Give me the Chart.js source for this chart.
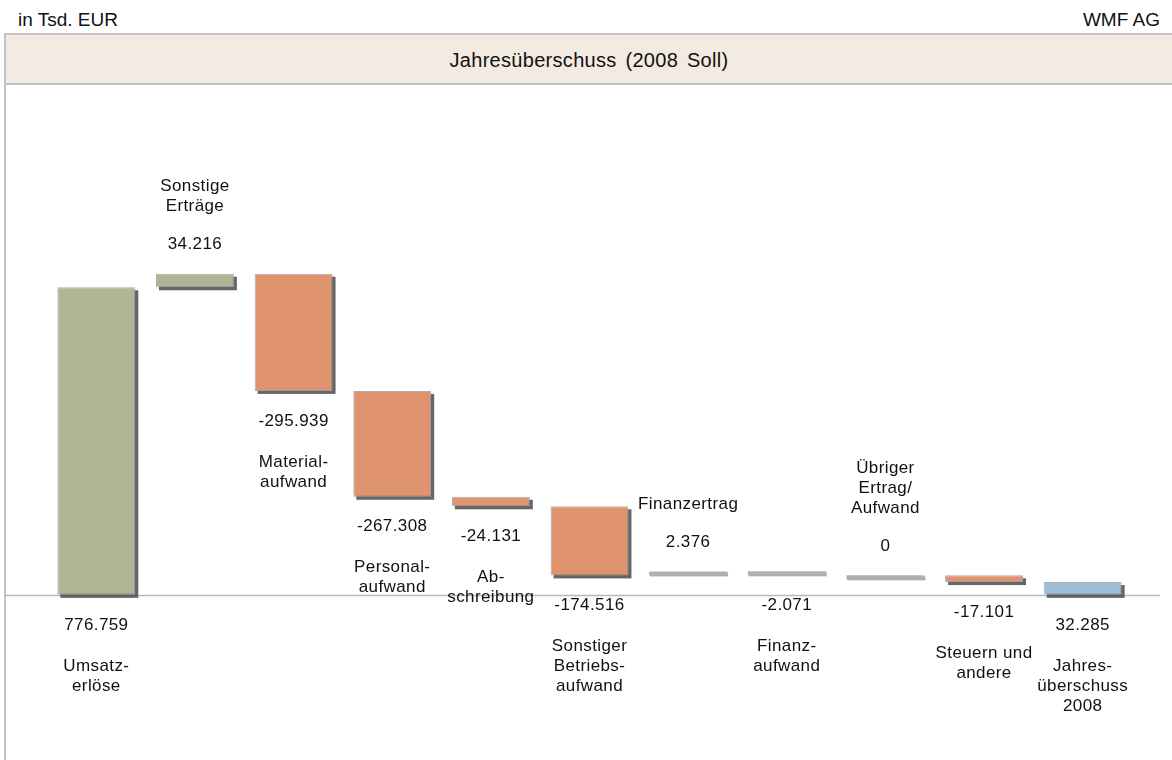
<!DOCTYPE html>
<html><head><meta charset="utf-8">
<script src="https://cdn.jsdelivr.net/npm/chart.js@4/dist/chart.umd.min.js"></script>
<style>
body{margin:0;width:1172px;height:760px;overflow:hidden;background:#fff;font-family:"Liberation Sans",Arial,sans-serif;position:relative}
#hl{position:absolute;left:18px;top:9px;font-size:19px;line-height:22px;color:#111}
#hr{position:absolute;right:12px;top:9px;font-size:19px;line-height:22px;color:#111}
#frame{position:absolute;left:4px;top:33px;width:1168px;height:727px;border-left:2px solid #c4c4c4;border-top:2px solid #c4c4c4;box-sizing:border-box}
#title{position:absolute;left:6px;top:35px;width:1166px;height:48px;background:#f3ebe1;border-bottom:2px solid #c4c4c4;text-align:center;line-height:50px;font-size:20px;letter-spacing:0.3px;word-spacing:3px;color:#111}
#wrap{position:absolute;left:0;top:86px;width:1172px;height:674px}
</style></head>
<body>
<div id="hl">in Tsd. EUR</div>
<div id="hr">WMF AG</div>
<div id="frame"></div>
<div id="title">Jahresüberschuss (2008 Soll)</div>
<div id="wrap"><canvas id="c" width="1172" height="674"></canvas></div>
<script>
const categories = [
  ["Umsatz-","erlöse"],
  ["Sonstige","Erträge"],
  ["Material-","aufwand"],
  ["Personal-","aufwand"],
  ["Ab-","schreibung"],
  ["Sonstiger","Betriebs-","aufwand"],
  ["Finanzertrag"],
  ["Finanz-","aufwand"],
  ["Übriger","Ertrag/","Aufwand"],
  ["Steuern und","andere"],
  ["Jahres-","überschuss","2008"]
];
const values = [776759, 34216, -295939, -267308, -24131, -174516, 2376, -2071, 0, -17101, 32285];
const isTotal = [true, false, false, false, false, false, false, false, false, false, true];
const isMinor = [false, false, false, false, false, false, true, true, true, false, false];
const barColors = ['#b0b594','#b0b594','#e0936f','#e0936f','#e0936f','#e0936f','#b0b0b0','#b0b0b0','#b0b0b0','#e0936f','#9fbdd8'];

function fmt(v){
  const s = Math.abs(v).toString().replace(/\B(?=(\d{3})+(?!\d))/g, '.');
  return (v < 0 ? '-' : '') + s;
}

const ranges = [];
let cum = 0;
values.forEach((v, i) => {
  if (isTotal[i]) { ranges.push([0, v]); cum = v; }
  else { ranges.push([cum, cum + v]); cum += v; }
});

const mainData = ranges.map((r, i) => isMinor[i] ? null : r);
const minorData = ranges.map((r, i) => isMinor[i] ? r : null);

const baselinePlugin = {
  id: 'baseline',
  beforeDatasetsDraw(chart) {
    const ctx = chart.ctx;
    const y = Math.round(chart.scales.y.getPixelForValue(0)) + 0.5;
    ctx.save();
    ctx.strokeStyle = '#b8b8b8';
    ctx.lineWidth = 1.5;
    ctx.beginPath();
    ctx.moveTo(5, y);
    ctx.lineTo(1160, y);
    ctx.stroke();
    // drop shadows of the bars
    [0, 1].forEach(ds => {
      chart.getDatasetMeta(ds).data.forEach((el, i) => {
        if ((ds === 0) === isMinor[i]) return;
        const top = Math.min(el.y, el.base);
        const bottom = Math.max(el.y, el.base);
        const left = el.x - el.width / 2;
        const off = ds === 0 ? 3 : 1;
        ctx.fillStyle = ds === 0 ? 'rgba(85,85,85,0.9)' : 'rgba(150,150,150,0.8)';
        ctx.fillRect(left + off, top + off, el.width, bottom - top);
      });
    });
    ctx.restore();
  }
};

const labelPlugin = {
  id: 'labels',
  afterDatasetsDraw(chart) {
    const ctx = chart.ctx;
    ctx.save();
    ctx.fillStyle = '#111';
    ctx.textAlign = 'center';
    ctx.textBaseline = 'middle';
    ctx.font = '17px "Liberation Sans", Arial, sans-serif';
    ctx.letterSpacing = '0.4px';
    categories.forEach((lines, i) => {
      const ds = isMinor[i] ? 1 : 0;
      const el = chart.getDatasetMeta(ds).data[i];
      const top = Math.min(el.y, el.base);
      const bottom = Math.max(el.y, el.base);
      const x = el.x;
      if (!isTotal[i] && values[i] >= 0) {
        const vy = top - 29;
        ctx.fillText(fmt(values[i]), x, vy);
        const lastY = vy - 38;
        lines.forEach((t, k) => {
          ctx.fillText(t, x, lastY - (lines.length - 1 - k) * 20);
        });
      } else {
        const vy = bottom + 30;
        ctx.fillText(fmt(values[i]), x, vy);
        lines.forEach((t, k) => {
          ctx.fillText(t, x, vy + 41 + k * 20);
        });
      }
    });
    ctx.restore();
  }
};

new Chart(document.getElementById('c'), {
  type: 'bar',
  data: {
    labels: categories.map(l => l.join(' ')),
    datasets: [
      {
        data: mainData,
        backgroundColor: barColors,
        borderColor: 'rgba(165,165,165,0.9)',
        borderWidth: 1,
        borderSkipped: false,
        grouped: false,
        barPercentage: 0.79,
        categoryPercentage: 1
      },
      {
        data: minorData,
        backgroundColor: barColors,
        borderWidth: 0,
        grouped: false,
        minBarLength: 4,
        barPercentage: 0.79,
        categoryPercentage: 1
      }
    ]
  },
  options: {
    responsive: false,
    animation: false,
    layout: { padding: { left: 47, right: 40, top: 0, bottom: 0 } },
    plugins: { legend: { display: false }, tooltip: { enabled: false }, title: { display: false } },
    scales: {
      x: { display: false, grid: { display: false } },
      y: { display: false, min: -417000, max: 1285000, grid: { display: false } }
    }
  },
  plugins: [baselinePlugin, labelPlugin]
});
</script>
</body></html>
